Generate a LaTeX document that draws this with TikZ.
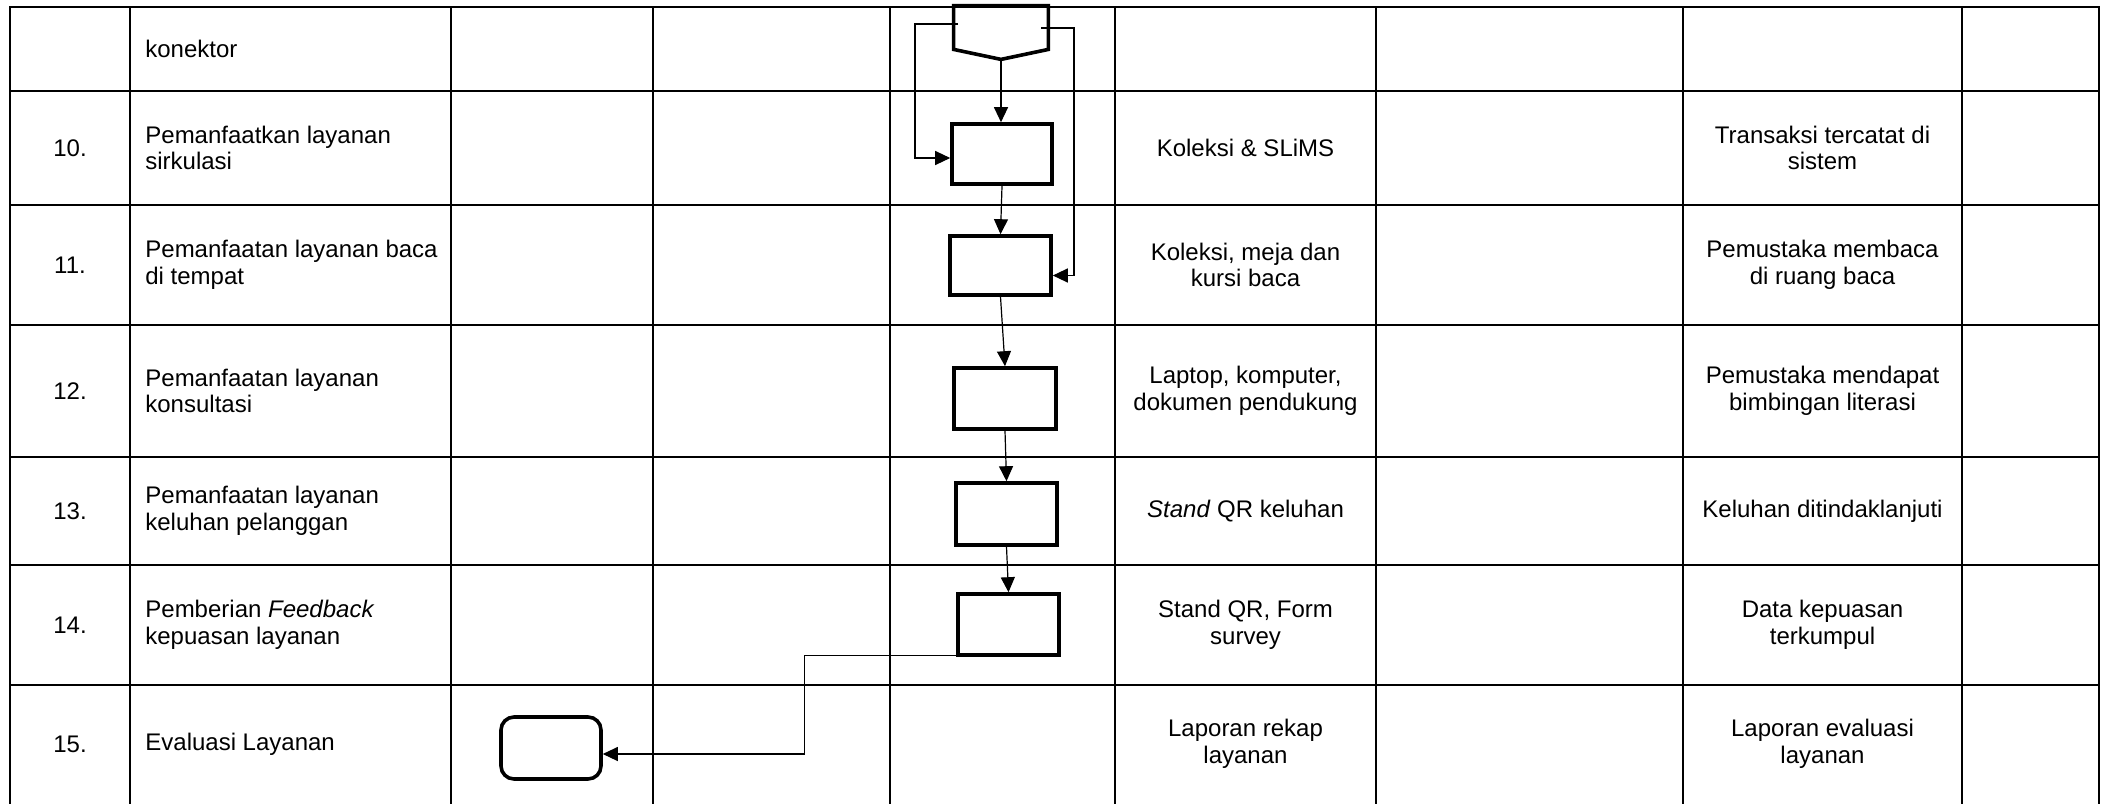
\documentclass[tikz,border=0pt]{standalone}
\usepackage{fontspec}
\setmainfont{Liberation Sans}
\usetikzlibrary{arrows.meta,calc}
\begin{document}
\begin{tikzpicture}[x=0.5pt,y=-0.5pt,
  grid/.style={line width=1.1pt, line cap=rect},
  procbox/.style={draw, line width=1.8pt, minimum width=50pt, minimum height=30pt, inner sep=0pt},
  termbox/.style={procbox, rounded corners=6.5pt},
  conn/.style={line width=0.6pt, -{Triangle[length=7.5pt,width=7pt]}},
  cell/.style={font=\fontsize{12pt}{13.4pt}\selectfont, align=center, inner sep=0pt},
  lcell/.style={cell, align=left, anchor=west},
]
\useasboundingbox (0,0) rectangle (2108,803);

% table grid
\foreach \yy in {7,91,205,325,457,565,685}
  \draw[grid] (10,\yy) -- (2099,\yy);
\foreach \xx in {10,130,451,653,890,1115,1376,1683,1962,2099}
  \draw[grid] (\xx,7) -- (\xx,803);

% column 1: numbers
\node[cell] (n10) at (70,148) {10.};
\node[cell] (n11) at (70,265) {11.};
\node[cell] (n12) at (70,391) {12.};
\node[cell] (n13) at (70,511) {13.};
\node[cell] (n14) at (70,625) {14.};
\node[cell] (n15) at (70,744) {15.};

% column 2: activities
\node[lcell] (a0)  at (145,49)  {konektor};
\node[lcell] (a10) at (145,148) {Pemanfaatkan layanan\\sirkulasi};
\node[lcell] (a11) at (145,265) {Pemanfaatan layanan baca\\di tempat};
\node[lcell] (a12) at (145,391) {Pemanfaatan layanan\\konsultasi};
\node[lcell] (a13) at (145,511) {Pemanfaatan layanan\\keluhan pelanggan};
\node[lcell] (a14) at (145,625) {Pemberian \textit{Feedback}\\kepuasan layanan};
\node[lcell] (a15) at (145,744) {Evaluasi Layanan};

% equipment column
\node[cell] (k10) at (1245.5,148) {Koleksi \& SLiMS};
\node[cell] (k11) at (1245.5,265) {Koleksi, meja dan\\kursi baca};
\node[cell] (k12) at (1245.5,391) {Laptop, komputer,\\dokumen pendukung};
\node[cell] (k13) at (1245.5,511) {\textit{Stand} QR keluhan};
\node[cell] (k14) at (1245.5,625) {Stand QR, Form\\survey};
\node[cell] (k15) at (1245.5,744) {Laporan rekap\\layanan};

% output column
\node[cell] (o10) at (1822.5,148) {Transaksi tercatat di\\sistem};
\node[cell] (o11) at (1822.5,265) {Pemustaka membaca\\di ruang baca};
\node[cell] (o12) at (1822.5,391) {Pemustaka mendapat\\bimbingan literasi};
\node[cell] (o13) at (1822.5,511) {Keluhan ditindaklanjuti};
\node[cell] (o14) at (1822.5,625) {Data kepuasan\\terkumpul};
\node[cell] (o15) at (1822.5,744) {Laporan evaluasi\\layanan};

% off-page connector
\node[minimum width=47pt, minimum height=21.5pt, inner sep=0pt] (con) at (1001,27.5) {};
\coordinate (contip) at ($(con.south)+(0,10)$);
\draw[line width=1.8pt, line join=miter]
  (con.north west) -- (con.north east) -- (con.south east) -- (contip)
  -- (con.south west) -- cycle;
\coordinate (cl) at (958,24);
\coordinate (cr) at (1041,28);

% process boxes
\node[procbox, minimum width=50pt,  minimum height=30pt]   (b10) at (1002,154) {};
\node[procbox, minimum width=50.5pt,minimum height=29.5pt] (b11) at (1000.5,265.5) {};
\node[procbox, minimum width=51pt,  minimum height=30.5pt] (b12) at (1005,398.5) {};
\node[procbox, minimum width=50.5pt,minimum height=31pt]   (b13) at (1006.5,514) {};
\node[procbox, minimum width=50.5pt,minimum height=30.5pt] (b14) at (1008.5,624.5) {};
\node[termbox, minimum width=50pt,  minimum height=31pt]   (end) at (551,748) {};

% connectors
\draw[conn] (contip) -- (contip |- b10.north);
\draw[conn] (cl) -- ++(-21.5pt,0) |- ([yshift=-2pt]b10.west);
\draw[conn] (cr) -- ++(16.5pt,0) |- ([yshift=-5pt]b11.east);
\draw[conn] (b10.south) -- (b11.north);
\draw[conn] (b11.south) -- (b12.north);
\draw[conn] (b12.south) -- (b13.north);
\draw[conn] (b13.south) -- (b14.north);
\draw[conn] ([yshift=0.7pt]b14.south west) -- ++(-76pt,0) |- ([yshift=-3pt]end.east);
\end{tikzpicture}
\end{document}
